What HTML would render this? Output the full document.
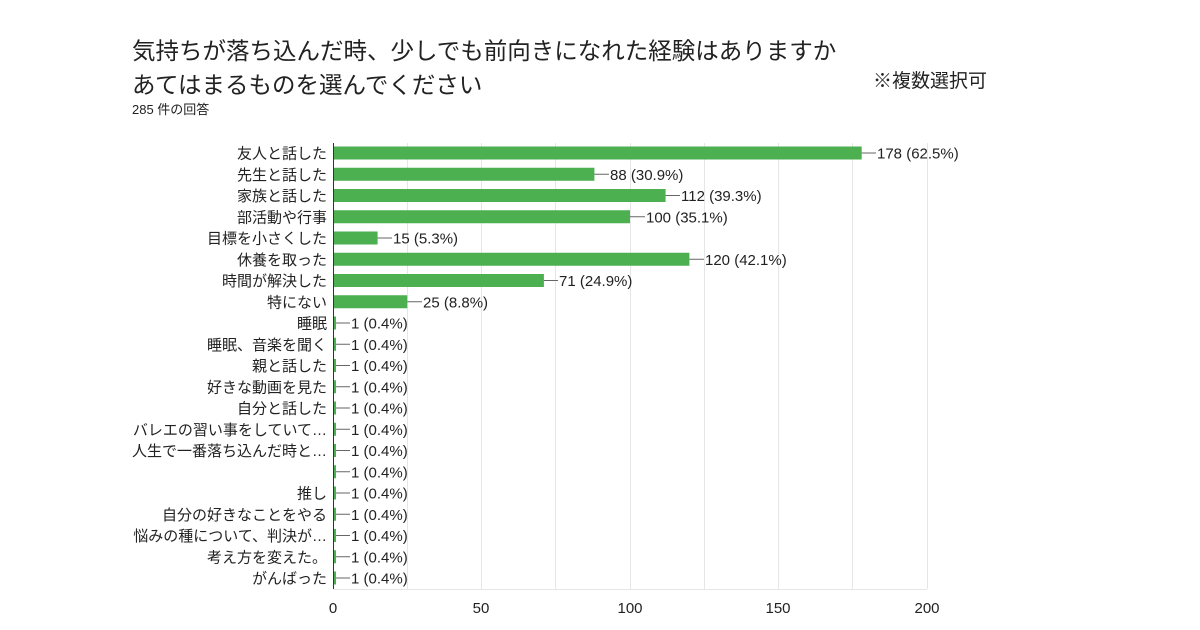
<!DOCTYPE html><html><head><meta charset="utf-8"><style>body{margin:0;background:#fff}svg{display:block}text{font-family:"Liberation Sans","Noto Sans CJK JP",sans-serif;fill:#222}.l{font-size:15px;text-anchor:end}.v{font-size:15px}</style></head><body>
<svg width="1200" height="630" xmlns="http://www.w3.org/2000/svg">
<text x="132" y="59" font-size="23.5">気持ちが落ち込んだ時、少しでも前向きになれた経験はありますか</text>
<text x="132" y="93" font-size="23.5">あてはまるものを選んでください</text>
<text x="132" y="114" font-size="13">285 件の回答</text>
<text x="873" y="87" font-size="19">※複数選択可</text>
<g stroke="#e6e6e6" stroke-width="1">
<line x1="407.5" y1="143" x2="407.5" y2="589"/><line x1="481.5" y1="143" x2="481.5" y2="589"/><line x1="555.5" y1="143" x2="555.5" y2="589"/><line x1="630.5" y1="143" x2="630.5" y2="589"/><line x1="704.5" y1="143" x2="704.5" y2="589"/><line x1="778.5" y1="143" x2="778.5" y2="589"/><line x1="852.5" y1="143" x2="852.5" y2="589"/><line x1="927.5" y1="143" x2="927.5" y2="589"/>
<line x1="333" y1="589.5" x2="927" y2="589.5"/>
</g>
<g font-size="15" text-anchor="middle" fill="#444">
<text x="333" y="613">0</text><text x="481" y="613">50</text><text x="630" y="613">100</text><text x="778" y="613">150</text><text x="927" y="613">200</text>
</g>
<g fill="#4caf50">
<rect x="333" y="146.5" width="528.7" height="13"/>
<rect x="333" y="167.75" width="261.4" height="13"/>
<rect x="333" y="189" width="332.6" height="13"/>
<rect x="333" y="210.25" width="297" height="13"/>
<rect x="333" y="231.5" width="44.6" height="13"/>
<rect x="333" y="252.75" width="356.4" height="13"/>
<rect x="333" y="274" width="210.9" height="13"/>
<rect x="333" y="295.25" width="74.25" height="13"/>
<rect x="333" y="316.5" width="3" height="13"/>
<rect x="333" y="337.75" width="3" height="13"/>
<rect x="333" y="359" width="3" height="13"/>
<rect x="333" y="380.25" width="3" height="13"/>
<rect x="333" y="401.5" width="3" height="13"/>
<rect x="333" y="422.75" width="3" height="13"/>
<rect x="333" y="444" width="3" height="13"/>
<rect x="333" y="465.25" width="3" height="13"/>
<rect x="333" y="486.5" width="3" height="13"/>
<rect x="333" y="507.75" width="3" height="13"/>
<rect x="333" y="529" width="3" height="13"/>
<rect x="333" y="550.25" width="3" height="13"/>
<rect x="333" y="571.5" width="3" height="13"/>
</g>
<g stroke="#666" stroke-width="1">
<line x1="861.7" y1="153" x2="876" y2="153"/>
<line x1="594.4" y1="174.25" x2="609" y2="174.25"/>
<line x1="665.6" y1="195.5" x2="680" y2="195.5"/>
<line x1="630" y1="216.75" x2="645" y2="216.75"/>
<line x1="377.6" y1="238" x2="392" y2="238"/>
<line x1="689.4" y1="259.25" x2="704" y2="259.25"/>
<line x1="543.9" y1="280.5" x2="558" y2="280.5"/>
<line x1="407.25" y1="301.75" x2="422" y2="301.75"/>
<line x1="336" y1="323" x2="350" y2="323"/>
<line x1="336" y1="344.25" x2="350" y2="344.25"/>
<line x1="336" y1="365.5" x2="350" y2="365.5"/>
<line x1="336" y1="386.75" x2="350" y2="386.75"/>
<line x1="336" y1="408" x2="350" y2="408"/>
<line x1="336" y1="429.25" x2="350" y2="429.25"/>
<line x1="336" y1="450.5" x2="350" y2="450.5"/>
<line x1="336" y1="471.75" x2="350" y2="471.75"/>
<line x1="336" y1="493" x2="350" y2="493"/>
<line x1="336" y1="514.25" x2="350" y2="514.25"/>
<line x1="336" y1="535.5" x2="350" y2="535.5"/>
<line x1="336" y1="556.75" x2="350" y2="556.75"/>
<line x1="336" y1="578" x2="350" y2="578"/>
</g>
<g class="v">
<text class="v" x="877" y="158.5">178 (62.5%)</text>
<text class="v" x="610" y="179.75">88 (30.9%)</text>
<text class="v" x="681" y="201">112 (39.3%)</text>
<text class="v" x="646" y="222.25">100 (35.1%)</text>
<text class="v" x="393" y="243.5">15 (5.3%)</text>
<text class="v" x="705" y="264.75">120 (42.1%)</text>
<text class="v" x="559" y="286">71 (24.9%)</text>
<text class="v" x="423" y="307.25">25 (8.8%)</text>
<text class="v" x="351" y="328.5">1 (0.4%)</text>
<text class="v" x="351" y="349.75">1 (0.4%)</text>
<text class="v" x="351" y="371">1 (0.4%)</text>
<text class="v" x="351" y="392.25">1 (0.4%)</text>
<text class="v" x="351" y="413.5">1 (0.4%)</text>
<text class="v" x="351" y="434.75">1 (0.4%)</text>
<text class="v" x="351" y="456">1 (0.4%)</text>
<text class="v" x="351" y="477.25">1 (0.4%)</text>
<text class="v" x="351" y="498.5">1 (0.4%)</text>
<text class="v" x="351" y="519.75">1 (0.4%)</text>
<text class="v" x="351" y="541">1 (0.4%)</text>
<text class="v" x="351" y="562.25">1 (0.4%)</text>
<text class="v" x="351" y="583.5">1 (0.4%)</text>
</g>
<g>
<text class="l" x="327" y="158.5">友人と話した</text>
<text class="l" x="327" y="179.75">先生と話した</text>
<text class="l" x="327" y="201">家族と話した</text>
<text class="l" x="327" y="222.25">部活動や行事</text>
<text class="l" x="327" y="243.5">目標を小さくした</text>
<text class="l" x="327" y="264.75">休養を取った</text>
<text class="l" x="327" y="286">時間が解決した</text>
<text class="l" x="327" y="307.25">特にない</text>
<text class="l" x="327" y="328.5">睡眠</text>
<text class="l" x="327" y="349.75">睡眠、音楽を聞く</text>
<text class="l" x="327" y="371">親と話した</text>
<text class="l" x="327" y="392.25">好きな動画を見た</text>
<text class="l" x="327" y="413.5">自分と話した</text>
<text class="l" x="327" y="434.75">バレエの習い事をしていて…</text>
<text class="l" x="327" y="456">人生で一番落ち込んだ時と…</text>
<text class="l" x="327" y="498.5">推し</text>
<text class="l" x="327" y="519.75">自分の好きなことをやる</text>
<text class="l" x="327" y="541">悩みの種について、判決が…</text>
<text class="l" x="327" y="562.25">考え方を変えた。</text>
<text class="l" x="327" y="583.5">がんばった</text>
</g>
<line x1="333.5" y1="143" x2="333.5" y2="589" stroke="#333" stroke-width="1"/>
</svg></body></html>
